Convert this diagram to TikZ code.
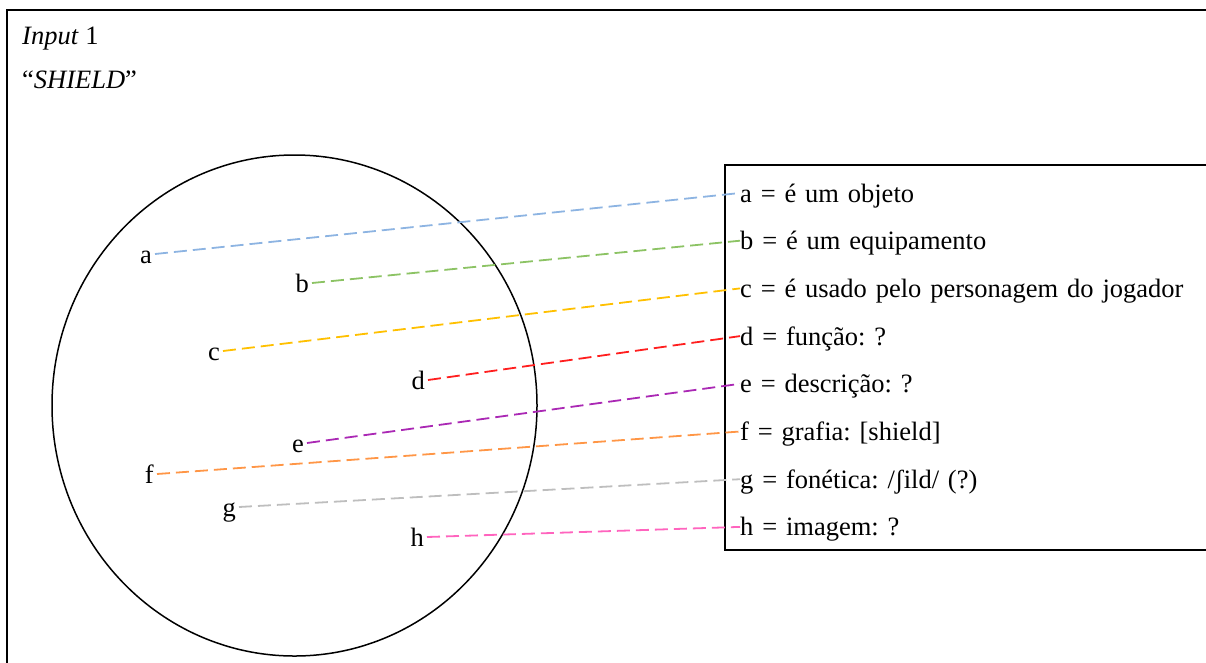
\documentclass[tikz,border=0pt]{standalone}
\usepackage{fontspec}
\setmainfont{Liberation Serif}
\usepackage{xcolor}
\usepackage{tikz}
\usetikzlibrary{positioning}

\definecolor{cola}{RGB}{141,180,226}
\definecolor{colb}{RGB}{140,195,100}
\definecolor{colc}{RGB}{255,192,0}
\definecolor{cold}{RGB}{255,30,30}
\definecolor{cole}{RGB}{170,40,180}
\definecolor{colf}{RGB}{255,150,70}
\definecolor{colg}{RGB}{190,190,190}
\definecolor{colh}{RGB}{255,100,190}

\begin{document}
\frenchspacing
\begin{tikzpicture}[x=1pt, y=-1pt, font=\fontsize{26.5pt}{32pt}\selectfont,
    letter/.style={anchor=east, inner sep=3pt, text height=24pt, text depth=6pt},
    item/.style={text width=470pt, align=left, inner sep=0pt,
                 text height=24pt, text depth=6pt, minimum height=47.3pt},
    link/.style={dash pattern=on 13pt off 6pt, line width=1.8pt}]
    \useasboundingbox (0,0) rectangle (1206,662);
    % frame
    \draw[line width=2pt] (7,680) |- (1230,10);
    \node[anchor=base west, inner sep=0pt] (inp) at (22,44) {\textit{Input} 1};
    \node[anchor=base west, inner sep=0pt] (word) at (22,88) {``\textit{SHIELD}''};
    % word set
    \draw[line width=1.5pt] (294.5,405.5) ellipse [x radius=242.5, y radius=250.5];
    \node[letter] (la) at (155,254) {a};
    \node[letter] (lb) at (312,283) {b};
    \node[letter] (lc) at (223,351) {c};
    \node[letter] (ld) at (428,380) {d};
    \node[letter] (le) at (307,443) {e};
    \node[letter] (lf) at (157,474) {f};
    \node[letter] (lg) at (239,507) {g};
    \node[letter] (lh) at (427,537) {h};
    % features
    \draw[line width=1.5pt] (725,165) rectangle (1230,550);
    \node[item, anchor=west] (ra) at (740,193) {a = é um objeto};
    \node[item, below=0pt of ra] (rb) {b = é um equipamento};
    \node[item, below=0pt of rb] (rc) {c = é usado pelo personagem do jogador};
    \node[item, below=0pt of rc] (rd) {d = função: ?};
    \node[item, below=0pt of rd] (re) {e = descrição: ?};
    \node[item, below=0pt of re] (rf) {f = grafia: [shield]};
    \node[item, below=0pt of rf] (rg) {g = fonética: /ʃild/ (?)};
    \node[item, below=0pt of rg] (rh) {h = imagem: ?};
    \draw[link, cola] (la.east) -- (ra.west);
    \draw[link, colb] (lb.east) -- (rb.west);
    \draw[link, colc] (lc.east) -- (rc.west);
    \draw[link, cold] (ld.east) -- (rd.west);
    \draw[link, cole] (le.east) -- (re.west);
    \draw[link, colf] (lf.east) -- (rf.west);
    \draw[link, colg] (lg.east) -- (rg.west);
    \draw[link, colh] (lh.east) -- (rh.west);
\end{tikzpicture}
\end{document}
